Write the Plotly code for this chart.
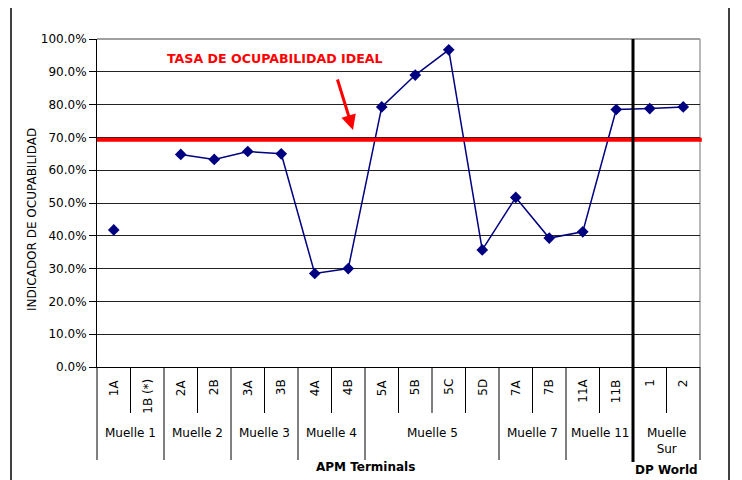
import plotly.graph_objects as go

# ---- data ----
categories = ["1A", "1B (*)", "2A", "2B", "3A", "3B", "4A", "4B", "5A", "5B", "5C", "5D",
              "7A", "7B", "11A", "11B", "1", "2"]
ocupabilidad = [0.418, None, 0.648, 0.633, 0.657, 0.650, 0.285, 0.300, 0.793, 0.890, 0.967,
                0.357, 0.517, 0.393, 0.412, 0.785, 0.788, 0.793]
muelles = ["Muelle 1", "Muelle 2", "Muelle 3", "Muelle 4", "Muelle 5", "Muelle 7", "Muelle 11", "Muelle<br>Sur"]
muelle_sizes = [2, 2, 2, 2, 4, 2, 2, 2]
operadores = ["APM Terminals", "DP World"]
operador_sizes = [16, 2]
tasa_ideal = 0.693
y_ticks = [i / 10 for i in range(11)]

n = len(categories)
FONT = "DejaVu Sans"

# page body has an 8px margin; plot area spans screen x 97..700, y 39..367
PX0, PY0, PW, PH = 97, 367, 603, 328


def px_x(x):
    return (x - PX0) / PW


def px_y(y):
    return (PY0 - y) / PH


fig = go.Figure()
fig.add_trace(go.Scatter(
    x=list(range(n)), y=ocupabilidad, mode="lines+markers",
    line=dict(color="#000080", width=1.5),
    marker=dict(symbol="diamond", size=9, color="#000080"),
    connectgaps=False, showlegend=False, cliponaxis=False,
))

shapes = []
annotations = []

# ideal rate line
shapes.append(dict(type="line", xref="paper", yref="y", x0=0.0, x1=1.003, y0=tasa_ideal, y1=tasa_ideal,
                   line=dict(color="#FF0000", width=4), layer="above"))
# plot area gray border (top/right)
shapes.append(dict(type="line", xref="paper", yref="paper", x0=0, x1=1, y0=1, y1=1,
                   line=dict(color="#A0A0A0", width=2), layer="below"))
shapes.append(dict(type="line", xref="paper", yref="paper", x0=1, x1=1, y0=0, y1=1,
                   line=dict(color="#A0A0A0", width=1.5), layer="below"))

SHORT = px_y(413)
LONG = px_y(460)

group_bounds = set()
acc = 0
for s in muelle_sizes:
    group_bounds.add(acc)
    acc += s
group_bounds.add(acc)
op_bounds = set()
acc = 0
for s in operador_sizes:
    op_bounds.add(acc)
    acc += s
op_bounds.add(acc)

for k in range(n + 1):
    xp = k / n
    if k in op_bounds and k not in (0, n):
        shapes.append(dict(type="line", xref="paper", yref="paper", x0=xp, x1=xp, y0=px_y(462), y1=1,
                           line=dict(color="black", width=3), layer="above"))
    elif k in group_bounds:
        shapes.append(dict(type="line", xref="paper", yref="paper", x0=xp, x1=xp, y0=LONG, y1=0,
                           line=dict(color="black", width=1)))
    else:
        shapes.append(dict(type="line", xref="paper", yref="paper", x0=xp, x1=xp, y0=SHORT, y1=0,
                           line=dict(color="black", width=1)))

for i, c in enumerate(categories):
    annotations.append(dict(text=c, xref="paper", yref="paper", x=(i + 0.5) / n, y=px_y(377),
                            xanchor="center", yanchor="top", textangle=-90, showarrow=False,
                            font=dict(family=FONT, size=12, color="black")))

acc = 0
for m, s in zip(muelles, muelle_sizes):
    yc = px_y(433) if "<br>" not in m else px_y(441)
    annotations.append(dict(text=m, xref="paper", yref="paper", x=(acc + s / 2) / n, y=yc,
                            xanchor="center", yanchor="middle", showarrow=False,
                            font=dict(family=FONT, size=12, color="black")))
    acc += s

acc = 0
op_y = [px_y(467), px_y(470)]
for o, s, yy in zip(operadores, operador_sizes, op_y):
    annotations.append(dict(text="<b>" + o + "</b>", xref="paper", yref="paper", x=(acc + s / 2) / n, y=yy,
                            xanchor="center", yanchor="middle", showarrow=False,
                            font=dict(family=FONT, size=12, color="black")))
    acc += s

# y-axis title
annotations.append(dict(text="INDICADOR DE OCUPABILIDAD", xref="paper", yref="paper", x=px_x(32), y=px_y(220),
                        xanchor="center", yanchor="middle", textangle=-90, showarrow=False,
                        font=dict(family=FONT, size=12, color="black")))

# red title + arrow
annotations.append(dict(text="<b>TASA DE OCUPABILIDAD IDEAL</b>", xref="paper", yref="paper",
                        x=px_x(274.5), y=px_y(58), xanchor="center", yanchor="middle",
                        showarrow=False, font=dict(family=FONT, size=12.6, color="#FF0000")))
annotations.append(dict(text="", xref="paper", yref="paper", x=px_x(353), y=px_y(130),
                        showarrow=True, ax=-16, ay=-52, arrowcolor="#FF0000", arrowwidth=3,
                        arrowhead=2, arrowsize=1))

# outer chart frame
for xpx in (11, 729):
    xp = px_x(xpx)
    shapes.append(dict(type="line", xref="paper", yref="paper", x0=xp, x1=xp, y0=-0.4, y1=1.2,
                       line=dict(color="black", width=1.5)))

fig.update_layout(
    width=734, height=472,
    margin=dict(l=PX0 - 8, r=734 - (PX0 - 8) - PW, t=(PY0 - PH) - 8, b=472 - (PY0 - 8)),
    paper_bgcolor="white", plot_bgcolor="white",
    font=dict(family=FONT, size=12, color="black"),
    shapes=shapes, annotations=annotations,
    xaxis=dict(range=[-0.5, n - 0.5], showticklabels=False, showgrid=False, zeroline=False,
               showline=True, linecolor="black", linewidth=1, ticks=""),
    yaxis=dict(range=[0, 1], tickvals=y_ticks, tickformat=".1%", showgrid=True, gridcolor="#222222",
               gridwidth=1, zeroline=False, showline=True, linecolor="black", linewidth=1,
               ticks="outside", ticklen=7, tickcolor="black",
               tickfont=dict(family=FONT, size=12, color="black")),
)

fig.write_html("out.html")
